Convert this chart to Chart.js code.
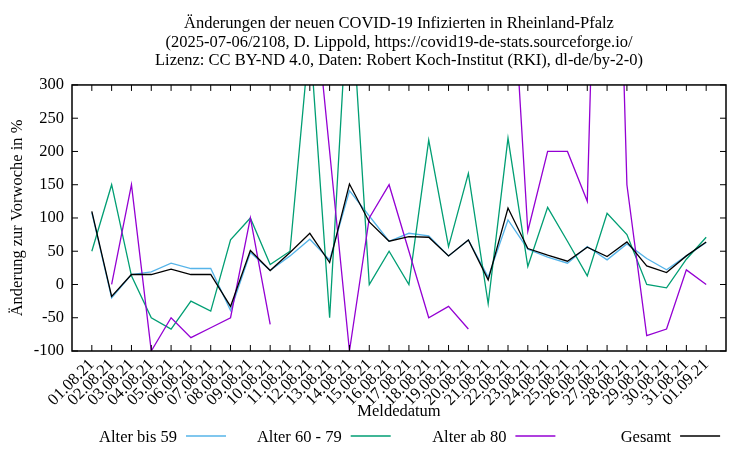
<!DOCTYPE html>
<html>
<head>
<meta charset="utf-8">
<script src="https://cdn.jsdelivr.net/npm/chart.js@4.4.0/dist/chart.umd.min.js"></script>
<style>
  body { margin: 0; background: white; }
</style>
</head>
<body>
<canvas id="chart-1" width="750" height="450"></canvas>
<script>
const dates = ["01.08.21", "02.08.21", "03.08.21", "04.08.21", "05.08.21", "06.08.21", "07.08.21", "08.08.21",
  "09.08.21", "10.08.21", "11.08.21", "12.08.21", "13.08.21", "14.08.21", "15.08.21", "16.08.21",
  "17.08.21", "18.08.21", "19.08.21", "20.08.21", "21.08.21", "22.08.21", "23.08.21", "24.08.21",
  "25.08.21", "26.08.21", "27.08.21", "28.08.21", "29.08.21", "30.08.21", "31.08.21", "01.09.21"];

var bis59 = [108, -20, 15, 19, 32, 24, 24, -39, 48, 21, 43, 68, 37, 141, 103, 65,
  77, 73, 43, 67, 11, 97, 53, 41, 32, 57, 37, 61, 39, 22, 43, 63];
var alter6079 = [50, 150, 13, -50, -67, -25, -40, 67, 100, 30, 50, 375, -50, 475, 0, 50,
  0, 217, 57, 167, -29, 220, 27, 116, 65, 13, 107, 75, 0, -5, 38, 71];
var ab80 = [null, 0, 150, -100, -50, -80, -65, -50, 100, -60, null, 500, 200, -100, 100, 150,
  50, -50, -33, -67, null, 580, 80, 200, 200, 125, 1200, 150, -77, -67, 22, 0];
var gesamt = [110, -18, 15, 15, 23, 15, 15, -33, 51, 21, 48, 77, 33, 151, 94, 65,
  72, 71, 43, 67, 7, 115, 54, 44, 35, 56, 42, 64, 28, 18, 43, 64];

var yTicks = [-100, -50, 0, 50, 100, 150, 200, 250, 300];

var titleLines = [
  "Änderungen der neuen COVID-19 Infizierten in Rheinland-Pfalz",
  "(2025-07-06/2108, D. Lippold, https://covid19-de-stats.sourceforge.io/",
  "Lizenz: CC BY-ND 4.0, Daten: Robert Koch-Institut (RKI), dl-de/by-2-0)"
];

const serif = "'Liberation Serif', 'Times New Roman', serif";
const fs = 16.5;

function toPoints(arr) {
  return arr.map((v, i) => ({ x: i, y: v }));
}

function makeSet(label, arr, color, order) {
  return {
    label: label,
    data: toPoints(arr),
    borderColor: color,
    backgroundColor: color,
    borderWidth: 1.3,
    pointRadius: 0,
    lineTension: 0,
    fill: false,
    order: order,
  };
}

// gnuplot-style frame with inward ticks, plus the key at the bottom
const framePlugin = {
  id: "frame",
  afterDatasetsDraw(chart) {
    const ctx = chart.ctx;
    const a = chart.chartArea;
    const xs = chart.scales.x;
    const ys = chart.scales.y;
    ctx.save();
    ctx.strokeStyle = "black";
    ctx.lineWidth = 1;
    ctx.beginPath();
    dates.forEach((d, i) => {
      const px = xs.getPixelForValue(i);
      ctx.moveTo(px, a.bottom); ctx.lineTo(px, a.bottom - 6);
      ctx.moveTo(px, a.top); ctx.lineTo(px, a.top + 6);
    });
    yTicks.forEach((v) => {
      const py = ys.getPixelForValue(v);
      ctx.moveTo(a.left, py); ctx.lineTo(a.left + 6, py);
      ctx.moveTo(a.right, py); ctx.lineTo(a.right - 6, py);
    });
    ctx.stroke();
    ctx.lineWidth = 1.5;
    ctx.strokeRect(a.left, a.top, a.right - a.left, a.bottom - a.top);

    // key
    ctx.font = fs + "px " + serif;
    ctx.textAlign = "right";
    ctx.textBaseline = "middle";
    ctx.fillStyle = "black";
    chart.data.datasets.forEach((ds, i) => {
      const x0 = 186 + i * 164.7;
      const y = 437;
      ctx.fillText(ds.label, x0 - 9, y + 1);
      ctx.strokeStyle = ds.borderColor;
      ctx.lineWidth = 1.3;
      ctx.beginPath();
      ctx.moveTo(x0, y - 1);
      ctx.lineTo(x0 + 40, y - 1);
      ctx.stroke();
    });
    ctx.restore();
  },
};

var lineChart = new Chart(document.getElementById("chart-1"), {
  type: "line",
  data: {
    datasets: [
      makeSet("Alter bis 59", bis59, "#56b4e9", 4),
      makeSet("Alter 60 - 79", alter6079, "#009e73", 3),
      makeSet("Alter ab 80", ab80, "#9400d3", 2),
      makeSet("Gesamt", gesamt, "#000000", 1),
    ],
  },
  options: {
    responsive: false,
    animation: false,
    layout: { padding: { left: 0, right: 24, top: 0, bottom: 28 } },
    plugins: {
      legend: { display: false },
      tooltip: { enabled: false },
      title: {
        display: true,
        fullSize: false,
        text: titleLines,
        color: "black",
        font: { family: serif, size: fs, weight: "normal", lineHeight: 1.1 },
        padding: { top: 15, bottom: 15.5 },
      },
    },
    scales: {
      x: {
        type: "linear",
        min: -1,
        max: 32,
        afterBuildTicks: (s) => { s.ticks = dates.map((d, i) => ({ value: i })); },
        afterFit: (s) => { s.height = 71; },
        grid: { display: false, drawTicks: false },
        border: { display: false },
        ticks: {
          autoSkip: false,
          maxRotation: 45,
          minRotation: 45,
          padding: 4,
          color: "black",
          font: { family: serif, size: fs },
          callback: (v) => dates[v] || "",
        },
        title: {
          display: true,
          text: "Meldedatum",
          color: "black",
          font: { family: serif, size: fs },
          padding: { top: 0, bottom: 0 },
        },
      },
      y: {
        min: -100,
        max: 300,
        afterBuildTicks: (s) => { s.ticks = yTicks.map((v) => ({ value: v })); },
        afterFit: (s) => { s.width = 72; },
        grid: { display: false, drawTicks: false },
        border: { display: false },
        ticks: {
          padding: 8,
          color: "black",
          font: { family: serif, size: fs },
        },
        title: {
          display: true,
          text: "Änderung zur Vorwoche in %",
          color: "black",
          font: { family: serif, size: fs },
          padding: { top: 8, bottom: 0 },
        },
      },
    },
  },
  plugins: [framePlugin],
});
</script>
</body>
</html>
